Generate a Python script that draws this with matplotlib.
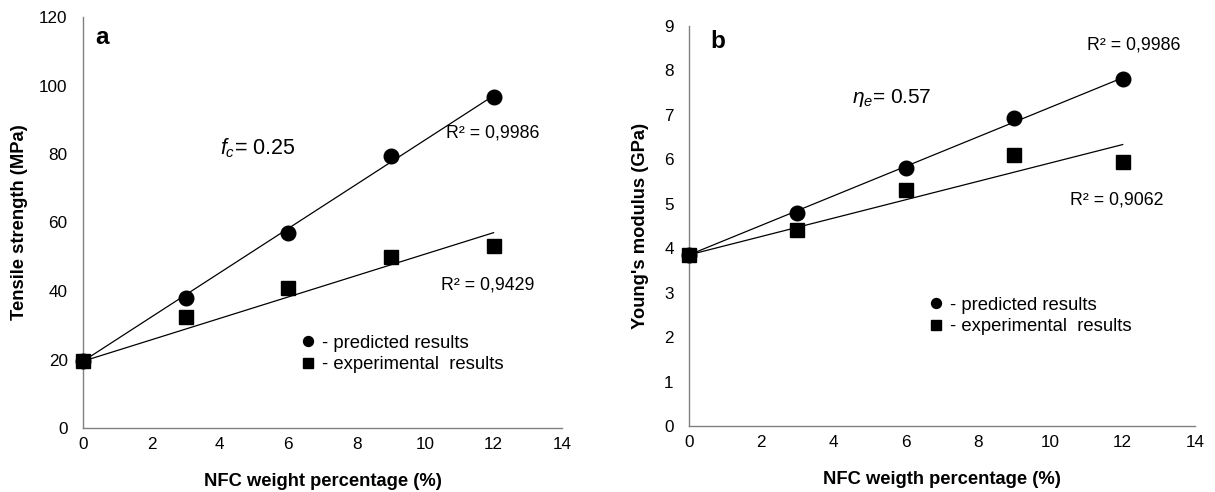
import matplotlib
matplotlib.use("Agg")
import matplotlib.pyplot as plt
import numpy as np

plt.rcParams['font.family'] = ['Liberation Sans', 'DejaVu Sans']
plt.rcParams['mathtext.fontset'] = 'custom'
plt.rcParams['mathtext.rm'] = 'Liberation Sans'
plt.rcParams['mathtext.it'] = 'Liberation Sans:italic'

# Data
nfc = [0, 3, 6, 9, 12]
tensile_pred = [19.5, 38, 57, 79.5, 96.5]
tensile_exp = [19.5, 32.5, 41, 50, 53]
modulus_pred = [3.85, 4.8, 5.8, 6.93, 7.8]
modulus_exp = [3.85, 4.42, 5.3, 6.1, 5.95]

xticks = [0, 2, 4, 6, 8, 10, 12, 14]
yticks_a = [0, 20, 40, 60, 80, 100, 120]
yticks_b = [0, 1, 2, 3, 4, 5, 6, 7, 8, 9]


def fixed_intercept_fit(x, y):
    x = np.asarray(x, float)
    y = np.asarray(y, float)
    b = y[0]
    m = np.sum(x * (y - b)) / np.sum(x * x)
    return m, b


fig = plt.figure(figsize=(12.15, 4.92), dpi=100)
ax_a = fig.add_axes([83 / 1215, 1 - 428 / 492, (562 - 83) / 1215, (428 - 17) / 492])
ax_b = fig.add_axes([689 / 1215, 1 - 426 / 492, (1195 - 689) / 1215, (426 - 26) / 492])

spine_col = '#808080'


def style(ax, yticks, ymax):
    ax.set_xlim(0, 14)
    ax.set_ylim(0, ymax)
    ax.set_xticks(xticks)
    ax.set_yticks(yticks)
    for s in ['top', 'right']:
        ax.spines[s].set_visible(False)
    for s in ['left', 'bottom']:
        ax.spines[s].set_color(spine_col)
        ax.spines[s].set_linewidth(1.0)
    ax.tick_params(length=0, labelsize=12.3, colors='black')
    ax.tick_params(axis='y', pad=11)
    ax.tick_params(axis='x', pad=6.5)


def draw(ax, pred, exp):
    xs = np.array([0, 12])
    m, b = fixed_intercept_fit(nfc, pred)
    ax.plot(xs, m * xs + b, color='black', lw=0.9, zorder=2)
    m, b = fixed_intercept_fit(nfc, exp)
    ax.plot(xs, m * xs + b, color='black', lw=0.9, zorder=2)
    hp, = ax.plot(nfc, pred, 'o', color='black', ms=10.5, zorder=3, clip_on=False)
    he, = ax.plot(nfc, exp, 's', color='black', ms=10.3, zorder=3, clip_on=False)
    return hp, he


legend_kw = dict(loc='center left', frameon=False, fontsize=13.3, markerscale=0.68,
                 handlelength=0.6, handletextpad=0.45, labelspacing=0.24,
                 borderpad=0, borderaxespad=0)
labels = ['- predicted results', '- experimental  results']

# Panel a
style(ax_a, yticks_a, 120)
hp, he = draw(ax_a, tensile_pred, tensile_exp)
ax_a.set_ylabel('Tensile strength (MPa)', fontsize=13.2, fontweight='bold', labelpad=8)
ax_a.set_xlabel('NFC weight percentage (%)', fontsize=13.2, fontweight='bold', labelpad=15)
ax_a.text(0.025, 0.949, 'a', transform=ax_a.transAxes, fontsize=17.5, fontweight='bold', va='center')
ax_a.text(0.286, 0.681, r'$f_c$= 0.25', transform=ax_a.transAxes, fontsize=15.5, va='center')
ax_a.text(0.758, 0.718, 'R² = 0,9986', transform=ax_a.transAxes, fontsize=12.8, va='center')
ax_a.text(0.747, 0.348, 'R² = 0,9429', transform=ax_a.transAxes, fontsize=12.8, va='center')
ax_a.legend([hp, he], labels, bbox_to_anchor=(0.459, 0.18), **legend_kw)

# Panel b
style(ax_b, yticks_b, 9)
hp, he = draw(ax_b, modulus_pred, modulus_exp)
ax_b.set_ylabel("Young's modulus (GPa)", fontsize=13.2, fontweight='bold', labelpad=11)
ax_b.set_xlabel('NFC weigth percentage (%)', fontsize=13.2, fontweight='bold', labelpad=15)
ax_b.text(0.0415, 0.9625, 'b', transform=ax_b.transAxes, fontsize=17.5, fontweight='bold', va='center')
ax_b.text(0.322, 0.82, r'$\eta_e$= 0.57', transform=ax_b.transAxes, fontsize=15, va='center')
ax_b.text(0.787, 0.953, 'R² = 0,9986', transform=ax_b.transAxes, fontsize=12.8, va='center')
ax_b.text(0.753, 0.565, 'R² = 0,9062', transform=ax_b.transAxes, fontsize=12.8, va='center')
ax_b.legend([hp, he], labels, bbox_to_anchor=(0.478, 0.275), **legend_kw)

fig.savefig('out.png', dpi=100)
